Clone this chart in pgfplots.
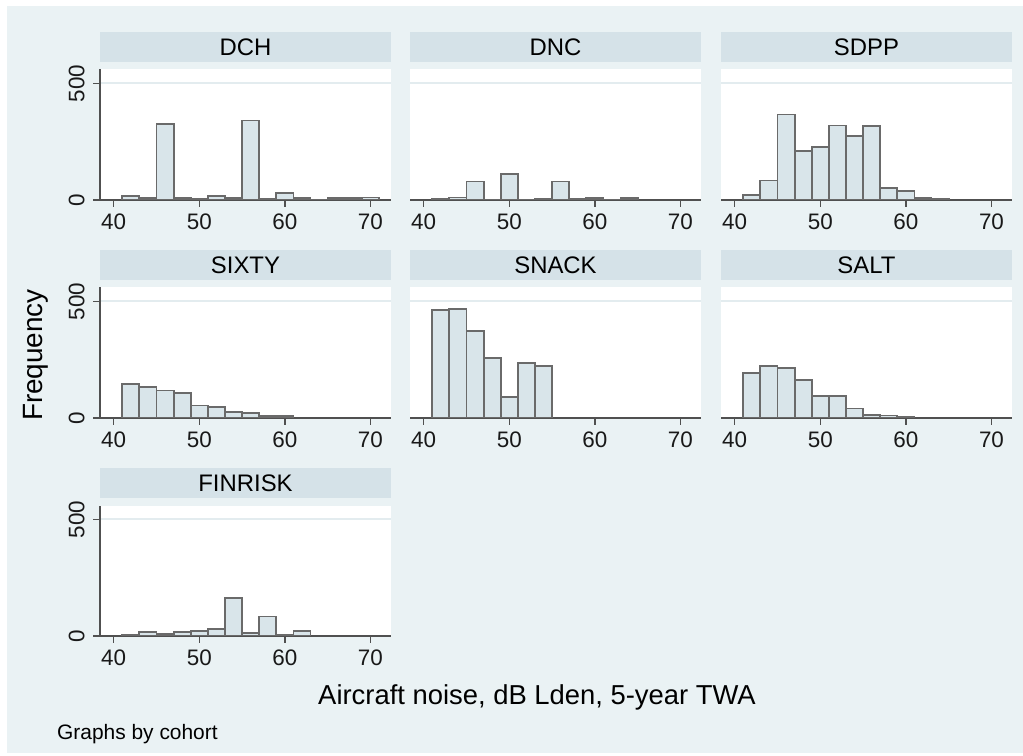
\documentclass[border=0pt]{standalone}
\usepackage{pgfplots}
\pgfplotsset{compat=1.18}
\usepackage{fontspec}
\setmainfont{Liberation Sans}
\definecolor{bgcol}{HTML}{EAF2F4}
\definecolor{stripcol}{HTML}{D5E2E8}
\definecolor{barfill}{HTML}{D9E5EA}
\definecolor{baredge}{HTML}{6A6A6A}
\definecolor{axcol}{HTML}{505050}
\definecolor{gridcol}{HTML}{E3ECEF}
\pgfplotsset{
 panel/.style={
  scale only axis, width=291bp, height=130.5bp,
  anchor=south west,
  xmin=38.4, xmax=72.4, ymin=0, ymax=560,
  axis x line*=bottom, axis y line*=left,
  axis line style={draw=axcol, line width=1.3bp, -},
  axis background/.style={fill=white},
  xtick={40,50,60,70}, ytick={0,500},
  tick align=outside, major tick length=7bp,
  tick style={draw=axcol, line width=1.3bp},
  ymajorgrids, grid style={draw=gridcol, line width=2bp},
  /pgf/number format/assume math mode=true,
  ticklabel style={font=\fontsize{22.5}{25}\selectfont, text=black!90},
  yticklabel style={xshift=-5bp, rotate=90, anchor=south},
  xticklabel style={yshift=-3bp},
  title style={at={(0.5,1)}, anchor=south, yshift=1bp, fill=stripcol,
    minimum width=291bp, minimum height=30bp, inner sep=0pt,
    font=\fontsize{24}{26}\selectfont},
 },
 noy/.style={y axis line style={draw=none}, ytick style={draw=none}, yticklabel=\empty},
 hbar/.style={ybar interval, fill=barfill, draw=baredge, line width=1.8bp},
}
\begin{document}
\begin{tikzpicture}
\path[use as bounding box] (0bp,0bp) rectangle (1023bp,756bp);
\fill[white] (0bp,0bp) rectangle (1023bp,756bp);
\fill[bgcol] (7bp,3bp) rectangle (1023bp,750bp);

\begin{axis}[panel, at={(100bp,556bp)}, title={DCH}]
\addplot[hbar] coordinates {(41,17)(43,10)(45,326)(47,10)(49,4)(51,17)(53,10)(55,341)(57,6)(59,30)(61,7)(63,0)(65,7)(67,7)(69,11)(71,0)};
\end{axis}
\begin{axis}[panel, noy, at={(410bp,556bp)}, title={DNC}]
\addplot[hbar] coordinates {(41,4)(43,11)(45,79)(47,0)(49,111)(51,0)(53,4)(55,79)(57,4)(59,10)(61,0)(63,7)(65,0)};
\end{axis}
\begin{axis}[panel, noy, at={(721bp,556bp)}, title={SDPP}]
\addplot[hbar] coordinates {(41,21)(43,84)(45,367)(47,209)(49,229)(51,320)(53,274)(55,316)(57,53)(59,37)(61,10)(63,4)(65,0)};
\end{axis}

\begin{axis}[panel, at={(100bp,338bp)}, title={SIXTY}]
\addplot[hbar] coordinates {(41,146)(43,133)(45,118)(47,108)(49,54)(51,48)(53,26)(55,21)(57,9)(59,7)(61,0)};
\end{axis}
\begin{axis}[panel, noy, at={(410bp,338bp)}, title={SNACK}]
\addplot[hbar] coordinates {(41,463)(43,469)(45,372)(47,257)(49,91)(51,237)(53,224)(55,0)};
\end{axis}
\begin{axis}[panel, noy, at={(721bp,338bp)}, title={SALT}]
\addplot[hbar] coordinates {(41,194)(43,223)(45,214)(47,163)(49,96)(51,96)(53,41)(55,14)(57,11)(59,6)(61,0)};
\end{axis}

\begin{axis}[panel, at={(100bp,120bp)}, title={FINRISK}]
\addplot[hbar] coordinates {(41,4)(43,16)(45,8)(47,16)(49,20)(51,30)(53,163)(55,14)(57,84)(59,3)(61,21)(63,0)};
\end{axis}

\node[rotate=90, font=\fontsize{28}{32}\selectfont] at (36bp,401bp) {Frequency};
\node[anchor=base, font=\fontsize{27.5}{31}\selectfont] at (537bp,51bp) {Aircraft noise, dB Lden, 5-year TWA};
\node[anchor=base west, inner sep=0pt, font=\fontsize{21}{24}\selectfont] at (57bp,17bp) {Graphs by cohort};
\end{tikzpicture}
\end{document}
